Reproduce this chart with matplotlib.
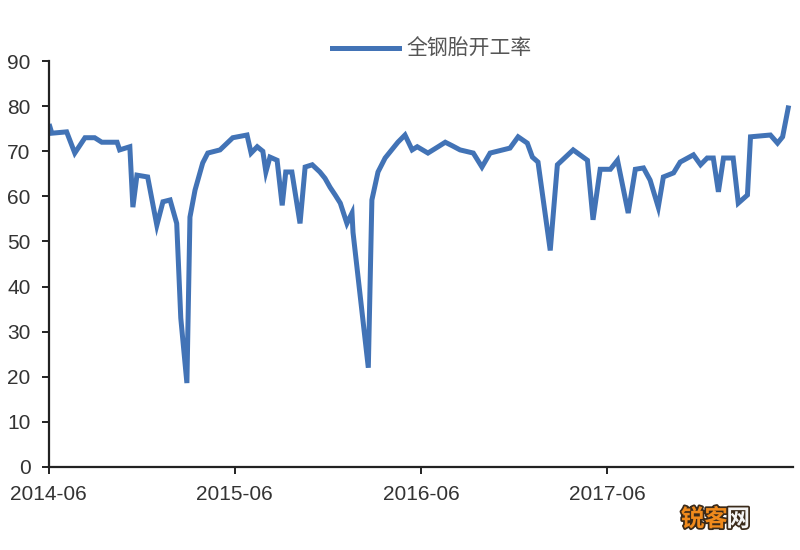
import matplotlib
matplotlib.use("Agg")
import matplotlib.pyplot as plt
import matplotlib.dates as mdates
import matplotlib.patheffects as pe
import pandas as pd

# 全钢胎开工率 (%)
dates = [
    "2014-06-03", "2014-06-07", "2014-07-06", "2014-07-22", "2014-08-11", "2014-08-30",
    "2014-09-13", "2014-10-13", "2014-10-18", "2014-11-07", "2014-11-13", "2014-11-21",
    "2014-12-12", "2014-12-30", "2015-01-11", "2015-01-25", "2015-02-07", "2015-02-15",
    "2015-02-27", "2015-03-05", "2015-03-15", "2015-03-30", "2015-04-09", "2015-05-03",
    "2015-05-28", "2015-06-25", "2015-07-03", "2015-07-15", "2015-07-26", "2015-08-01",
    "2015-08-09", "2015-08-23", "2015-09-02", "2015-09-09", "2015-09-21", "2015-10-07",
    "2015-10-17", "2015-10-31", "2015-11-15", "2015-11-25", "2015-12-05", "2015-12-15",
    "2015-12-25", "2016-01-07", "2016-01-17", "2016-01-19", "2016-02-18", "2016-02-25",
    "2016-03-08", "2016-03-22", "2016-04-16", "2016-04-30", "2016-05-14", "2016-05-24",
    "2016-06-14", "2016-07-04", "2016-07-18", "2016-08-01", "2016-08-16", "2016-09-11",
    "2016-09-28", "2016-10-14", "2016-11-22", "2016-12-08", "2016-12-26", "2017-01-05",
    "2017-01-16", "2017-02-09", "2017-02-23", "2017-03-26", "2017-04-23", "2017-05-04",
    "2017-05-18", "2017-06-07", "2017-06-21", "2017-07-12", "2017-07-26", "2017-08-11",
    "2017-08-24", "2017-09-09", "2017-09-19", "2017-10-09", "2017-10-22", "2017-11-17",
    "2017-12-01", "2017-12-14", "2017-12-26", "2018-01-05", "2018-01-15", "2018-02-03",
    "2018-02-13", "2018-03-03", "2018-03-09", "2018-04-17", "2018-05-01", "2018-05-11",
    "2018-05-22",
]
rate = [
    75.5, 74.0, 74.3, 69.6, 73.0, 73.0,
    72.0, 72.0, 70.3, 71.0, 57.6, 64.7,
    64.3, 53.6, 58.8, 59.2, 54.0, 33.0,
    18.6, 55.4, 61.4, 67.4, 69.6, 70.3,
    73.0, 73.6, 69.6, 71.0, 70.0, 65.4,
    68.7, 68.0, 58.0, 65.4, 65.4, 54.0,
    66.5, 67.0, 65.4, 64.0, 62.0, 60.3,
    58.5, 54.0, 56.3, 52.0, 22.0, 59.2,
    65.4, 68.5, 72.0, 73.6, 70.3, 71.0,
    69.6, 71.0, 72.0, 71.2, 70.3, 69.6,
    66.5, 69.6, 70.7, 73.2, 71.8, 68.7,
    67.6, 48.0, 67.0, 70.3, 68.0, 54.8,
    66.0, 66.0, 68.0, 56.3, 66.0, 66.3,
    63.6, 57.6, 64.3, 65.2, 67.6, 69.2,
    67.0, 68.5, 68.5, 61.0, 68.5, 68.5,
    58.5, 60.3, 73.2, 73.6, 71.8, 73.2,
    79.6,
]
tick_dates = ["2014-06-01", "2015-06-01", "2016-06-01", "2017-06-01"]

x = pd.to_datetime(dates)

plt.rcParams["font.family"] = ["Liberation Sans", "Noto Sans CJK SC", "DejaVu Sans"]

fig = plt.figure(figsize=(8, 5.5), dpi=100)
ax = fig.add_axes([0.061, 0.151, 0.93, 0.738])

line, = ax.plot(x, rate, color="#4273b6", lw=3.6, solid_joinstyle="miter",
                label="全钢胎开工率")

ax.set_ylim(0, 90)
ax.set_yticks(range(0, 91, 10))
ax.set_xlim(pd.Timestamp("2014-06-01"), pd.Timestamp("2018-05-31"))
ax.set_xticks(pd.to_datetime(tick_dates))
ax.xaxis.set_major_formatter(mdates.DateFormatter("%Y-%m"))

for s in ["top", "right"]:
    ax.spines[s].set_visible(False)
for s in ["left", "bottom"]:
    ax.spines[s].set_color("#222222")
    ax.spines[s].set_linewidth(1.6)
ax.tick_params(axis="both", direction="out", length=5, width=1.4,
               colors="#222222", labelcolor="#333333", labelsize=15)
ax.tick_params(axis="x", pad=8)
ax.tick_params(axis="y", pad=8)

leg = fig.legend(handles=[line], loc="center", bbox_to_anchor=(0.54, 0.911),
                 frameon=False, handlelength=3.2, handletextpad=0.4,
                 prop={"family": ["Noto Sans CJK SC"], "size": 15})
for t in leg.get_texts():
    t.set_color("#555555")

# watermark
stroke = [pe.withStroke(linewidth=2.5, foreground="#3a2a1a")]
fig.text(0.851, 0.056, "锐客", color="#f08a1c", fontsize=17, fontweight="bold",
         family=["Noto Sans CJK SC"], ha="left", va="center", path_effects=stroke)
fig.text(0.908, 0.056, "网", color="#f4f4f4", fontsize=17, fontweight="bold",
         family=["Noto Sans CJK SC"], ha="left", va="center", path_effects=stroke)

fig.savefig("out.png", dpi=100)
